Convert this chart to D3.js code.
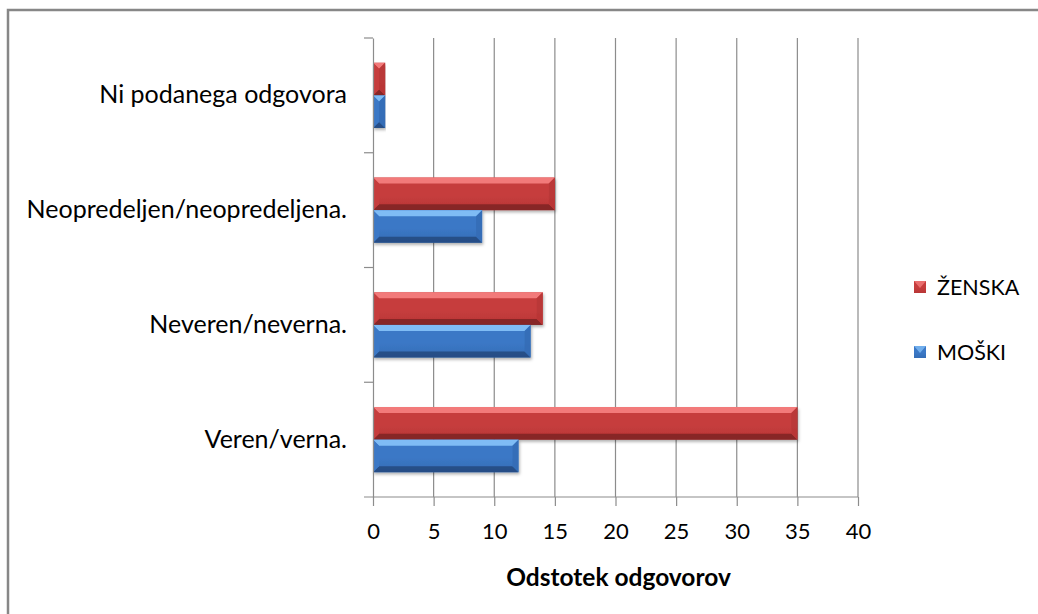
<!DOCTYPE html>
<html>
<head>
<meta charset="utf-8">
<script src="https://cdn.jsdelivr.net/npm/d3@7"></script>
<style>
  body { margin: 0; background: #fff; }
  svg { display: block; font-family: Lato, "Open Sans", sans-serif; }
</style>
</head>
<body>
<svg id="chart"></svg>
<script>
// data
var categories = ['Veren/verna.', 'Neveren/neverna.', 'Neopredeljen/neopredeljena.', 'Ni podanega odgovora'];
var series = ['ŽENSKA', 'MOŠKI'];
var zenska = [35, 14, 15, 1];
var moski = [12, 13, 9, 1];
var xTicks = [0, 5, 10, 15, 20, 25, 30, 35, 40];
var axisTitle = 'Odstotek odgovorov';

var values = { 'ŽENSKA': zenska, 'MOŠKI': moski };

var canvasWidth = 1038;
var canvasHeight = 614;
var plot = { left: 373, right: 858, top: 38, bottom: 497 };

var svg = d3.select('#chart')
  .attr('width', canvasWidth)
  .attr('height', canvasHeight);

// colours: light / body / dark
var pal = {
  'ŽENSKA': { light: '#f27a7a', body: '#c63d3d', mid: '#b83636', dark: '#7e2424' },
  'MOŠKI': { light: '#7fbcf5', body: '#3b78c6', mid: '#346db6', dark: '#23497e' }
};

var defs = svg.append('defs');
series.forEach(function(s, i) {
  var g = defs.append('linearGradient')
    .attr('id', 'grad' + i)
    .attr('x1', 0).attr('y1', 0).attr('x2', 0).attr('y2', 1);
  g.append('stop').attr('offset', '0%').attr('stop-color', pal[s].body);
  g.append('stop').attr('offset', '55%').attr('stop-color', pal[s].body);
  g.append('stop').attr('offset', '100%').attr('stop-color', pal[s].mid);
});
var shadow = defs.append('filter').attr('id', 'shadow')
  .attr('x', '-5%').attr('y', '-20%').attr('width', '110%').attr('height', '150%');
shadow.append('feDropShadow')
  .attr('dx', 1).attr('dy', 2).attr('stdDeviation', 1.5)
  .attr('flood-color', '#000').attr('flood-opacity', 0.3);

// outer border (top and left visible)
svg.append('path')
  .attr('d', 'M8,614 L8,10 L1038,10')
  .attr('fill', 'none')
  .attr('stroke', '#878787')
  .attr('stroke-width', 2.5);

var xScale = d3.scaleLinear()
  .domain([0, 40])
  .range([plot.left, plot.right]);

var yScale = d3.scaleBand()
  .domain(categories)
  .range([plot.bottom, plot.top]);

var inner = d3.scaleBand()
  .domain(series)
  .range([0, yScale.bandwidth()])
  .paddingOuter(0.76);

// gridlines
svg.append('g')
  .selectAll('line')
  .data(xTicks.slice(1))
  .enter()
  .append('line')
  .attr('x1', function(d) { return xScale(d); })
  .attr('x2', function(d) { return xScale(d); })
  .attr('y1', plot.top)
  .attr('y2', plot.bottom)
  .attr('stroke', '#8c8c8c')
  .attr('stroke-width', 1.2);

// bars
var groups = svg.append('g')
  .selectAll('g')
  .data(categories)
  .enter()
  .append('g')
  .attr('transform', function(d) { return 'translate(0,' + yScale(d) + ')'; });

series.forEach(function(s, si) {
  var bar = groups.append('g').attr('filter', 'url(#shadow)');
  function geo(d) {
    var x0 = xScale(0), x1 = xScale(values[s][categories.indexOf(d)]);
    var y0 = inner(s), y1 = y0 + inner.bandwidth();
    var b = Math.min(6, (x1 - x0) / 2);
    return { x0: x0, x1: x1, y0: y0, y1: y1, b: b };
  }
  bar.append('rect')
    .attr('x', function(d) { return geo(d).x0; })
    .attr('y', function(d) { return geo(d).y0; })
    .attr('width', function(d) { var g = geo(d); return g.x1 - g.x0; })
    .attr('height', inner.bandwidth())
    .attr('fill', 'url(#grad' + si + ')');
  // top bevel
  bar.append('path')
    .attr('d', function(d) {
      var g = geo(d);
      return 'M' + g.x0 + ',' + g.y0 + 'L' + g.x1 + ',' + g.y0 +
        'L' + (g.x1 - g.b) + ',' + (g.y0 + g.b) + 'L' + (g.x0 + g.b) + ',' + (g.y0 + g.b) + 'Z';
    })
    .attr('fill', pal[s].light);
  // bottom bevel
  bar.append('path')
    .attr('d', function(d) {
      var g = geo(d);
      return 'M' + g.x0 + ',' + g.y1 + 'L' + g.x1 + ',' + g.y1 +
        'L' + (g.x1 - g.b) + ',' + (g.y1 - g.b) + 'L' + (g.x0 + g.b) + ',' + (g.y1 - g.b) + 'Z';
    })
    .attr('fill', pal[s].dark)
    .attr('opacity', 0.85);
  // right end
  bar.append('path')
    .attr('d', function(d) {
      var g = geo(d);
      return 'M' + g.x1 + ',' + g.y0 + 'L' + g.x1 + ',' + g.y1 +
        'L' + (g.x1 - g.b) + ',' + (g.y1 - g.b) + 'L' + (g.x1 - g.b) + ',' + (g.y0 + g.b) + 'Z';
    })
    .attr('fill', pal[s].mid)
    .attr('opacity', 0.9);
  // left end
  bar.append('path')
    .attr('d', function(d) {
      var g = geo(d);
      return 'M' + g.x0 + ',' + g.y0 + 'L' + g.x0 + ',' + g.y1 +
        'L' + (g.x0 + g.b) + ',' + (g.y1 - g.b) + 'L' + (g.x0 + g.b) + ',' + (g.y0 + g.b) + 'Z';
    })
    .attr('fill', pal[s].body);
});

// x axis
var xAxis = svg.append('g')
  .attr('transform', 'translate(0,' + plot.bottom + ')')
  .call(d3.axisBottom(xScale).tickValues(xTicks).tickSize(9).tickPadding(17).tickSizeOuter(0));
xAxis.select('.domain').remove();
xAxis.append('line')
  .attr('x1', plot.left - 9).attr('x2', plot.right)
  .attr('stroke', '#8c8c8c').attr('stroke-width', 1.2);
xAxis.selectAll('.tick line').attr('stroke', '#8c8c8c').attr('stroke-width', 1.2);
xAxis.selectAll('.tick text')
  .attr('fill', '#000')
  .style('font-family', 'Lato, sans-serif')
  .style('font-size', '22px');

// y axis (category)
var yAxis = svg.append('g')
  .attr('transform', 'translate(' + plot.left + ',0)')
  .call(d3.axisLeft(yScale).tickSize(0).tickPadding(26));
yAxis.select('.domain').attr('stroke', '#8c8c8c').attr('stroke-width', 1.2);
yAxis.selectAll('.tick text')
  .attr('fill', '#000')
  .style('font-family', 'Lato, sans-serif')
  .style('font-size', '25px');
// category boundary ticks
yAxis.append('g')
  .selectAll('line')
  .data(categories)
  .enter()
  .append('line')
  .attr('x1', -9).attr('x2', 0)
  .attr('y1', function(d) { return yScale(d); })
  .attr('y2', function(d) { return yScale(d); })
  .attr('stroke', '#8c8c8c').attr('stroke-width', 1.2);

// axis title
svg.append('text')
  .attr('x', (plot.left + plot.right) / 2 + 3)
  .attr('y', 586)
  .attr('text-anchor', 'middle')
  .style('font-size', '24.5px')
  .style('font-weight', 'bold')
  .text(axisTitle);

// legend
var legend = svg.append('g')
  .selectAll('g')
  .data(series)
  .enter()
  .append('g')
  .attr('transform', function(d, i) { return 'translate(914,' + (287 + i * 65) + ')'; });
legend.append('rect')
  .attr('x', 0).attr('y', -6)
  .attr('width', 12).attr('height', 12)
  .attr('fill', function(d, i) { return 'url(#grad' + i + ')'; });
legend.append('path')
  .attr('d', 'M0,-6L12,-6L6,1Z')
  .attr('fill', function(d) { return pal[d].light; })
  .attr('opacity', 0.8);
legend.append('text')
  .attr('x', 23)
  .attr('dy', '0.35em')
  .style('font-size', '21.5px')
  .text(function(d) { return d; });
</script>
</body>
</html>
